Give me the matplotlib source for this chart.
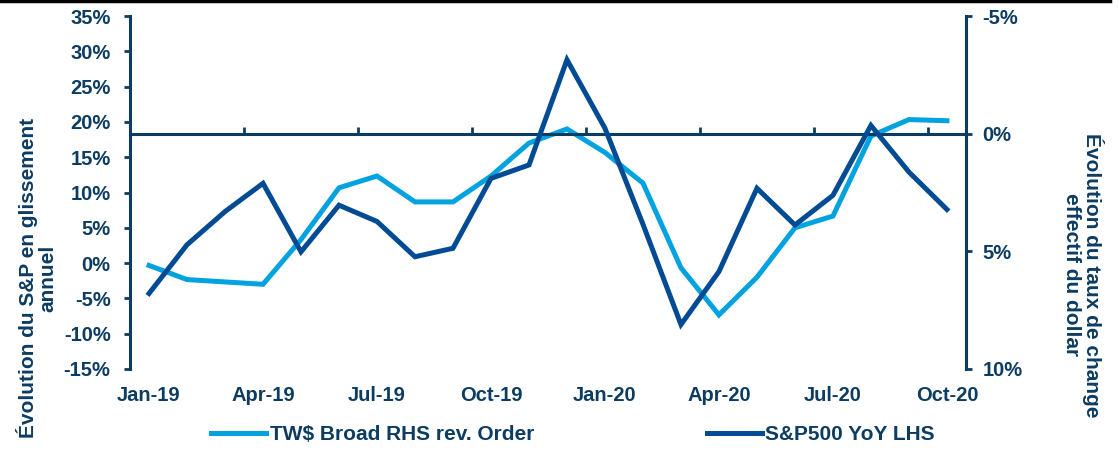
import matplotlib
matplotlib.use("Agg")
import matplotlib.pyplot as plt
from matplotlib.lines import Line2D
from matplotlib.ticker import FixedLocator, FuncFormatter

plt.rcParams['font.family'] = ['Liberation Sans', 'DejaVu Sans']
plt.rcParams['font.weight'] = 'bold'

navy = '#0c3c62'
light = '#00a3e0'
dark = '#004b93'

months = ['Jan-19', 'Feb-19', 'Mar-19', 'Apr-19', 'May-19', 'Jun-19', 'Jul-19',
          'Aug-19', 'Sep-19', 'Oct-19', 'Nov-19', 'Dec-19', 'Jan-20', 'Feb-20',
          'Mar-20', 'Apr-20', 'May-20', 'Jun-20', 'Jul-20', 'Aug-20', 'Sep-20',
          'Oct-20']
# S&P500 YoY, left axis (%)
spx_yoy = [-4.3, 2.6, 7.3, 11.3, 1.6, 8.2, 5.9, 0.9, 2.1, 12.0, 13.9, 28.8,
           19.1, 5.5, -8.7, -1.2, 10.6, 5.4, 9.6, 19.5, 12.9, 7.6]
# TW$ broad, right axis reversed (%)
twd_broad = [5.6, 6.2, 6.3, 6.4, 4.5, 2.3, 1.8, 2.9, 2.9, 1.8, 0.4, -0.2,
             0.8, 2.1, 5.7, 7.7, 6.1, 4.0, 3.5, 0.1, -0.6, -0.55]

x = list(range(len(months)))
fs_tick = 14.5
fs_lab = 15

fig = plt.figure(figsize=(11.19, 4.5), dpi=100)
ax = fig.add_axes([0.1162, 0.18, 0.747, 0.7844])
ax2 = ax.twinx()

l1, = ax2.plot(x, twd_broad, color=light, lw=3.6, solid_joinstyle='miter',
               label='TW$ Broad RHS rev. Order')
l2, = ax.plot(x, spx_yoy, color=dark, lw=3.6, solid_joinstyle='miter',
              label='S&P500 YoY LHS')
ax.set_zorder(ax2.get_zorder() + 1)
ax.patch.set_visible(False)

pct = FuncFormatter(lambda v, p: '{:.0f}%'.format(v))

ax.set_xlim(-0.5, len(months) - 0.5)
ax.set_ylim(-15, 35)
ax.set_yticks(range(-15, 36, 5))
ax.yaxis.set_major_formatter(pct)
ax2.set_ylim(10, -5)
ax2.set_yticks([-5, 0, 5, 10])
ax2.yaxis.set_major_formatter(pct)

for a in (ax, ax2):
    for s in a.spines.values():
        s.set_visible(False)

ax.spines['left'].set_visible(True)
ax.spines['left'].set_color(navy)
ax.spines['left'].set_linewidth(2.2)
ax2.spines['right'].set_visible(True)
ax2.spines['right'].set_color(navy)
ax2.spines['right'].set_linewidth(2.2)

# zero line of the right axis carries the category ticks
ax2.xaxis.set_visible(True)
ax2.spines['bottom'].set_visible(True)
ax2.spines['bottom'].set_position(('data', 0))
ax2.spines['bottom'].set_color(navy)
ax2.spines['bottom'].set_linewidth(2.2)

ax.xaxis.set_major_locator(FixedLocator(x[::3]))
ax.set_xticklabels(months[::3])
ax.xaxis.set_minor_locator(FixedLocator([i - 0.5 for i in x[::3]] + [len(months) - 0.5]))

ax.tick_params(axis='x', which='both', length=0, pad=12, labelsize=fs_tick,
               labelcolor=navy)
ax2.tick_params(axis='x', which='major', length=0, labelbottom=False)
ax2.tick_params(axis='x', which='minor', direction='in', length=5, width=2,
                color=navy, labelbottom=False)
ax.tick_params(axis='y', length=4, width=2, color=navy, pad=10,
               labelsize=fs_tick, labelcolor=navy)
ax2.tick_params(axis='y', length=4, width=2, color=navy, pad=8,
                labelsize=fs_tick, labelcolor=navy)

fig.text(37 / 1119, 1 - 278 / 450, 'Évolution du S&P en glissement\nannuel',
         rotation=90, ha='center', va='center', multialignment='center',
         fontsize=fs_lab, color=navy, linespacing=1.0)
fig.text(1083 / 1119, 1 - 275 / 450, 'Évolution du taux de change\neffectif du dollar',
         rotation=270, ha='center', va='center', multialignment='center',
         fontsize=fs_lab, color=navy, linespacing=1.0)

fig.legend(handles=[l1, l2], loc='center', bbox_to_anchor=(573 / 1119, 1 - 435 / 450),
           ncol=2, frameon=False, fontsize=fs_lab, handlelength=2.65,
           handletextpad=0.15, columnspacing=8.3, labelcolor=navy)

fig.add_artist(Line2D([0, 0.992], [0.997, 0.997], color='black', lw=2.5))

fig.savefig('out.png', dpi=100)
